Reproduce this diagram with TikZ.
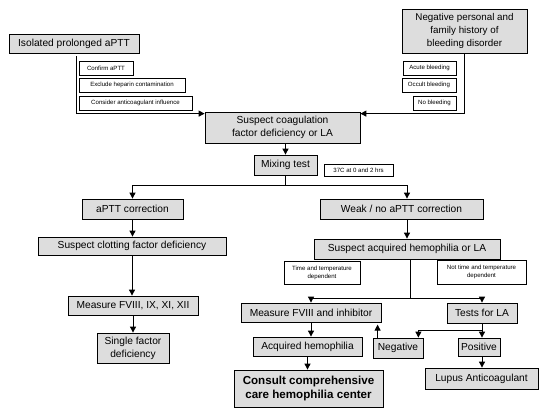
\documentclass[tikz,border=0pt]{standalone}
\usepackage{fontspec}
\setmainfont{Liberation Sans}
\usetikzlibrary{arrows.meta,shadows,calc}
\definecolor{boxgray}{RGB}{221,221,221}
\tikzset{
  gbox/.style={draw=black, line width=0.8pt, fill=boxgray, inner sep=0pt, align=center,
    font=\fontsize{10.2}{11}\selectfont,
    drop shadow={shadow xshift=1pt, shadow yshift=-1pt, fill=black, opacity=1}},
  sbox/.style={draw=black, line width=0.7pt, fill=white, inner sep=0pt, align=center,
    font=\fontsize{6.1}{7}\selectfont},
  conn/.style={line width=0.9pt},
  arr/.style={line width=0.9pt, -{Triangle[length=6pt,width=6pt]}},
}
\begin{document}
\begin{tikzpicture}[x=1pt,y=-1pt]
\useasboundingbox (0,0) rectangle (539,413);
% top
\node[gbox, minimum width=130, minimum height=19] (iso) at (74,43.5) {Isolated prolonged aPTT};
\node[gbox, minimum width=125, minimum height=44, font=\fontsize{9.8}{13.2}\selectfont] (neg) at (464.5,31) {Negative personal and\\family history of\\bleeding disorder};
\node[sbox, minimum width=54, minimum height=14] (conf) at (106,68) {Confirm aPTT};
\node[sbox, minimum width=106, minimum height=14] (excl) at (132,85) {Exclude heparin contamination};
\node[sbox, minimum width=113, minimum height=14] (cons) at (135.5,103) {Consider anticoagulant influence};
\node[sbox, minimum width=53, minimum height=14] (acute) at (429.5,68) {Acute bleeding};
\node[sbox, minimum width=54, minimum height=14] (occ) at (429,85) {Occult bleeding};
\node[sbox, minimum width=43, minimum height=14] (nob) at (434.5,103) {No bleeding};
\node[gbox, minimum width=155, minimum height=31, font=\fontsize{10.2}{13}\selectfont] (susp) at (282.5,127.5) {Suspect coagulation\\factor deficiency or LA};
\node[gbox, minimum width=63, minimum height=20] (mix) at (285.5,165) {Mixing test};
\node[sbox, minimum width=69, minimum height=12] (hrs) at (358.5,170) {37C at 0 and 2 hrs};
% middle
\node[gbox, minimum width=101, minimum height=20] (corr) at (132.5,209) {aPTT correction};
\node[gbox, minimum width=163, minimum height=20] (weak) at (401.5,209) {Weak / no aPTT correction};
\node[gbox, minimum width=188, minimum height=18] (clot) at (132,246) {Suspect clotting factor deficiency};
\node[gbox, minimum width=186, minimum height=20] (acq) at (407,249) {Suspect acquired hemophilia or LA};
\node[sbox, minimum width=76, minimum height=23, font=\fontsize{6.1}{8}\selectfont] (time) at (322,272.5) {Time and temperature\\dependent};
\node[sbox, minimum width=89, minimum height=24, font=\fontsize{6.1}{8}\selectfont] (ntime) at (481.5,272) {Not time and temperature\\dependent};
% bottom left
\node[gbox, minimum width=130, minimum height=19] (meas) at (133,305.5) {Measure FVIII, IX, XI, XII};
\node[gbox, minimum width=72, minimum height=30, font=\fontsize{10.2}{13}\selectfont] (single) at (133,348) {Single factor\\deficiency};
% bottom right
\node[gbox, minimum width=140, minimum height=19] (mf8) at (311,312.5) {Measure FVIII and inhibitor};
\node[gbox, minimum width=70, minimum height=20] (tla) at (482,313) {Tests for LA};
\node[gbox, minimum width=109, minimum height=19] (ah) at (307.5,346.5) {Acquired hemophilia};
\node[gbox, minimum width=50, minimum height=20] (negt) at (398,348) {Negative};
\node[gbox, minimum width=42, minimum height=18] (pos) at (479,347) {Positive};
\node[gbox, minimum width=113, minimum height=21] (lupus) at (481.5,378.5) {Lupus Anticoagulant};
\node[gbox, minimum width=149, minimum height=37, font=\bfseries\fontsize{11.6}{14.5}\selectfont] (consult) at (308.5,388.5) {Consult comprehensive\\care hemophilia center};
% connectors top
\coordinate (lt) at (76,56);
\draw[arr] (lt) |- ([yshift=-2pt]susp.north west);
\draw[arr] (neg.south) |- ([yshift=-2pt]susp.north east);
\draw[arr] (susp.south -| mix.north) -- (mix.north);
\draw[conn] (mix.south) -- ++(0,10) coordinate (mj);
\draw[arr] (mj) -| (corr.north);
\draw[arr] (mj) -| (acq.center |- weak.north);
% left column
\draw[arr] (corr.south) -- (corr.south |- clot.north);
\draw[arr] (clot.south) -- (clot.south |- meas.north);
\draw[arr] (meas.south) -- (meas.south |- single.north);
% right column
\draw[arr] (acq.center |- weak.south) -- (acq.north);
\coordinate (aj) at (410,298);
\draw[conn] (acq.south -| aj) -- (aj);
\draw[arr] (aj) -| (mf8.north);
\draw[arr] (aj) -| (tla.north);
\draw[arr] (mf8.south) -- (mf8.south |- ah.north);
\draw[arr] (ah.south) -- (ah.south |- consult.north);
\draw[arr] ([xshift=5pt]negt.north west) -- ++(0,-13);
\draw[arr] (tla.south) -- (tla.south |- pos.north);
\draw[conn] (tla.south) -- ++(0,7) coordinate (tj);
\draw[arr] (tj) -| ([xshift=-5pt]negt.north east);
\draw[arr] (pos.south -| tla.south) -- (tla.south |- lupus.north);
\end{tikzpicture}
\end{document}
